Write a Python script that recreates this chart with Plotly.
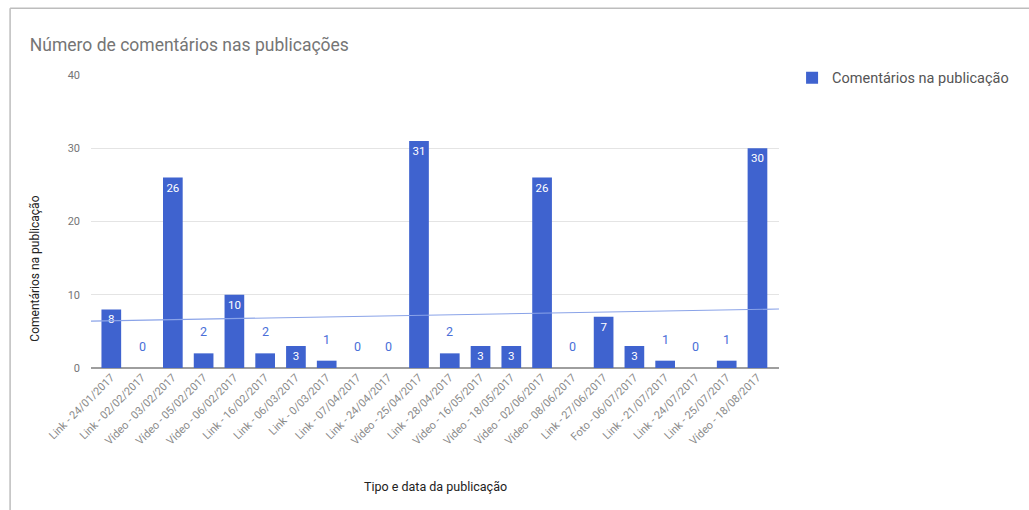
import numpy as np
import plotly.graph_objects as go

categories = [
    "Link - 24/01/2017", "Link - 02/02/2017", "Vídeo - 03/02/2017", "Vídeo - 05/02/2017",
    "Vídeo - 06/02/2017", "Link - 16/02/2017", "Link - 06/03/2017", "Link - 0/03/2017",
    "Link - 07/04/2017", "Link - 24/04/2017", "Vídeo - 25/04/2017", "Link - 28/04/2017",
    "Vídeo - 16/05/2017", "Vídeo - 18/05/2017", "Vídeo - 02/06/2017", "Vídeo - 08/06/2017",
    "Link - 27/06/2017", "Foto - 06/07/2017", "Link - 21/07/2017", "Link - 24/07/2017",
    "Link - 25/07/2017", "Vídeo - 18/08/2017",
]
comments = [8, 0, 26, 2, 10, 2, 3, 1, 0, 0, 31, 2, 3, 3, 26, 0, 7, 3, 1, 0, 1, 30]
y_ticks = [0, 10, 20, 30, 40]

BAR = "#3f63cf"
TREND = "#8aa3e8"
FONT = "Roboto, Arial, sans-serif"

n = len(categories)
idx = np.arange(n)
slope, intercept = np.polyfit(idx, comments, 1)
x_lo, x_hi = -0.66, n - 1 + 0.7

inside_pos = ["inside" if v >= 3 else "none" for v in comments]

fig = go.Figure()
fig.add_trace(go.Bar(
    x=categories, y=comments, name="Comentários na publicação",
    marker=dict(color=BAR, line=dict(width=0)),
    text=[str(v) for v in comments], textposition=inside_pos,
    insidetextanchor="end", textangle=0,
    textfont=dict(family=FONT, size=11.5, color="white"),
    cliponaxis=False,
))

# linear trendline computed from the data, drawn across the plot width
fig.add_shape(type="line", xref="x", yref="y",
              x0=x_lo, y0=intercept + slope * x_lo,
              x1=x_hi, y1=intercept + slope * x_hi,
              line=dict(color=TREND, width=1.2), layer="above")

annotations = []
for c, v in zip(categories, comments):
    if v < 3:
        annotations.append(dict(x=c, y=v, xref="x", yref="y", text=str(v),
                                showarrow=False, yanchor="bottom", yshift=12,
                                font=dict(family=FONT, size=12.5, color="#4a6fd8")))
annotations.append(dict(x=-0.081, y=0.34, xref="paper", yref="paper",
                        text="Comentários na publicação", textangle=-90,
                        showarrow=False, xanchor="center", yanchor="middle",
                        font=dict(family=FONT, size=12, color="#222222")))
annotations.append(dict(x=0.5, y=-0.405, xref="paper", yref="paper",
                        text="Tipo e data da publicação",
                        showarrow=False, xanchor="center", yanchor="middle",
                        font=dict(family=FONT, size=12.5, color="#222222")))

# outer frame (top and left edges)
shapes_frame = [
    dict(type="line", xref="paper", yref="paper", x0=-0.1176, x1=1.4, y0=1.2277, y1=1.2277,
         line=dict(color="#bdbdbd", width=1.5)),
    dict(type="line", xref="paper", yref="paper", x0=-0.1176, x1=-0.1176, y0=-0.5, y1=1.2277,
         line=dict(color="#bdbdbd", width=1.5)),
]
for s in shapes_frame:
    fig.add_shape(**s)

fig.update_layout(
    width=1029, height=510,
    margin=dict(l=91, r=250, t=75, b=142, autoexpand=False),
    paper_bgcolor="white", plot_bgcolor="white",
    font=dict(family=FONT, size=11, color="#757575"),
    title=dict(text="Número de comentários nas publicações", x=0.029, xanchor="left",
               xref="container", y=0.912, yref="container", yanchor="middle",
               font=dict(family=FONT, size=17.5, color="#757575")),
    bargap=0.36,
    showlegend=True,
    legend=dict(x=1.019, y=1.045, xanchor="left", yanchor="top",
                font=dict(family=FONT, size=14.5, color="#555555"),
                bgcolor="rgba(0,0,0,0)", itemwidth=30),
    annotations=annotations,
    xaxis=dict(type="category", range=[x_lo, x_hi], tickangle=-45,
               tickfont=dict(family=FONT, size=11, color="#8a8a8a"),
               showgrid=False, showline=False, ticks="", automargin=False),
    yaxis=dict(range=[0, 40], tickvals=y_ticks, showgrid=True, gridcolor="#e4e4e4",
               gridwidth=1, zeroline=True, zerolinecolor="#9e9e9e", zerolinewidth=2,
               tickfont=dict(family=FONT, size=11, color="#757575"),
               ticks="", ticklabelstandoff=10, showline=False, automargin=False),
)

fig.write_html("out.html")
